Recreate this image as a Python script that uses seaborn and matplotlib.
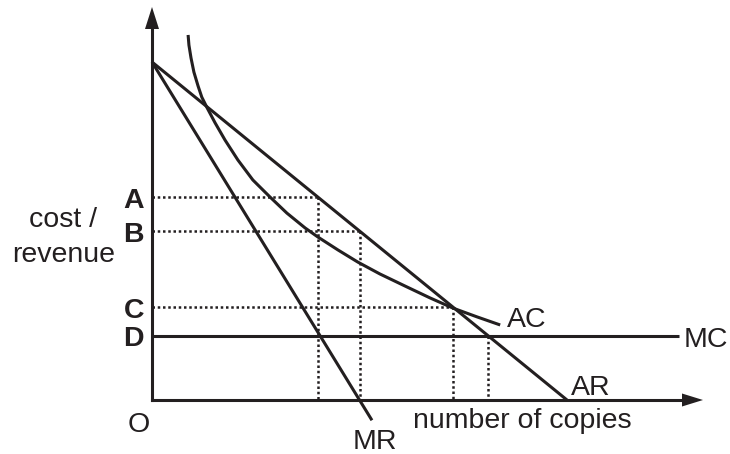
import matplotlib
matplotlib.use("Agg")
import matplotlib.pyplot as plt
import pandas as pd
import seaborn as sns

# ---- data (economic units: quantity q, cost/revenue p) ----
ar_q = [0, 100]
ar_p = [100, 0]
mr_q = [0, 53]
mr_p = [100, -6]
mc_q = [0, 127]
mc_p = [19, 19]
ac_q = [8.7, 8.9, 9.4, 10.1, 11.1, 12.0, 13.3, 15.2, 17.6, 20.7, 24.3, 28.4,
        32.5, 36.9, 40.0, 44.8, 49.6, 54.9, 61.0, 67.0, 72.5, 78.3, 83.9]
ac_p = [108.0, 105.0, 101.2, 97.0, 92.9, 89.6, 86.4, 82.0, 76.9, 71.0, 65.1, 60.1,
        55.3, 50.9, 48.2, 44.4, 40.8, 37.3, 33.7, 30.2, 27.2, 24.6, 22.2]
level_labels = ["A", "B", "C", "D"]
level_values = [60, 50, 27.5, 19]
level_q = [40, 50, 72.5, 81]
level_hline = [True, True, True, False]

# ---- layout: pixel mapping ----
W, H = 730, 454
X0, Y0 = 152, 400      # origin in pixels
SX, SY = 4.15, 3.38    # pixels per unit

def px(x, y):
    return (x - X0) / SX, (Y0 - y) / SY

INK = "#231f20"
FONT = "Liberation Sans"
FS = 20.5

sns.set_theme(style="white")
plt.rcParams["font.family"] = [FONT, "DejaVu Sans"]

fig = plt.figure(figsize=(W / 100, H / 100), dpi=100)
ax = fig.add_axes([0, 0, 1, 1])
ax.set_xlim(px(0, 0)[0], px(W, 0)[0])
ax.set_ylim(px(0, H)[1], px(0, 0)[1])
ax.axis("off")

# dotted guide lines
dot = dict(color=INK, lw=1.8, linestyle=(0, (1, 1.1)), solid_capstyle="butt")
for q, v, h in zip(level_q, level_values, level_hline):
    if h:
        ax.plot([0, q], [v, v], **dot)
    ax.plot([q, q], [v, 0], **dot)

# curves
lw = 2.2
for qs, ps in [(ar_q, ar_p), (mr_q, mr_p), (mc_q, mc_p), (ac_q, ac_p)]:
    df = pd.DataFrame({"q": qs, "p": ps})
    sns.lineplot(data=df, x="q", y="p", sort=False, estimator=None, ax=ax,
                 color=INK, lw=lw, solid_capstyle="butt", solid_joinstyle="round")

# axes with arrowheads
ytip = px(X0, 7)[1]
ybase = px(X0, 29)[1]
xtip = px(703, Y0)[0]
xbase = px(682, Y0)[0]
ax.plot([0, 0], [0, ybase + 0.5], color=INK, lw=lw, solid_capstyle="projecting")
ax.plot([0, xbase + 0.5], [0, 0], color=INK, lw=lw, solid_capstyle="projecting")
hw_x = 7 / SX
ax.fill([0, -hw_x, hw_x], [ytip, ybase, ybase], color=INK, lw=0)
hw_y = 6.5 / SY
ax.fill([xtip, xbase, xbase], [0, -hw_y, hw_y], color=INK, lw=0)

# texts
def txt(x, y, s, ha="left", weight="normal"):
    X, Y = px(x, y)
    ax.text(X, Y, s, ha=ha, va="baseline", fontsize=FS, color=INK,
            fontweight=weight, family=[FONT, "DejaVu Sans"])

txt(63, 227, "cost /", ha="center")
txt(64, 262, "revenue", ha="center")
for lab, v in zip(level_labels, level_values):
    ypix = Y0 - v * SY
    txt(144, ypix + 10.5, lab, ha="right", weight="bold")
txt(138.5, 432, "O", ha="center")
txt(375, 449, "MR", ha="center")
txt(413, 428, "number of copies")
txt(571, 395, "AR")
txt(507, 327, "AC")
txt(684, 347, "MC")

fig.savefig("out.png", dpi=100, facecolor="white")
